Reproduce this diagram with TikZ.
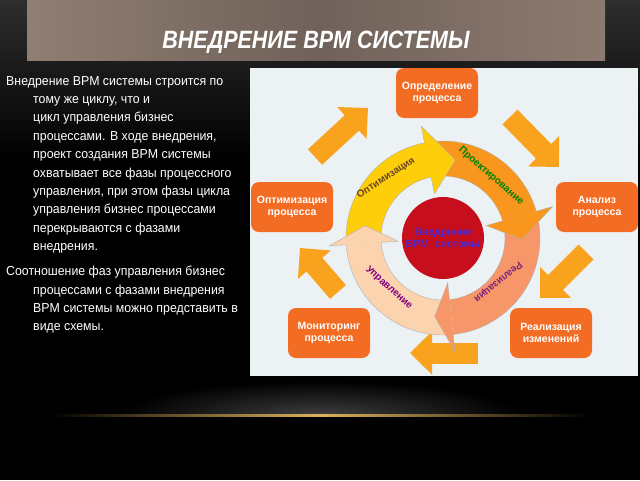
\documentclass[tikz,border=0pt]{standalone}
\usepackage{fontspec}
\setmainfont{Liberation Sans}
\newfontfamily\narrowfont{Liberation Sans}[FakeStretch=0.86]
\newfontfamily\bodyfont{Liberation Sans}[FakeStretch=0.95]
\usetikzlibrary{arrows.meta}

\definecolor{boxorange}{RGB}{242,108,36}
\definecolor{flowamber}{RGB}{248,162,30}
\definecolor{ringyellow}{RGB}{255,206,10}
\definecolor{ringorange}{RGB}{248,150,30}
\definecolor{ringsalmon}{RGB}{246,150,105}
\definecolor{ringpeach}{RGB}{251,211,175}
\definecolor{bpmred}{RGB}{198,14,28}
\definecolor{bpmblue}{RGB}{80,40,205}
\definecolor{panelbg}{RGB}{236,242,244}
\definecolor{barleft}{RGB}{143,126,114}
\definecolor{barmid}{RGB}{112,98,90}
\definecolor{barright}{RGB}{140,122,112}
\definecolor{goldline}{RGB}{222,178,90}

\tikzset{
  procbox/.style={rounded corners=8pt, fill=boxorange, minimum width=82pt,
    minimum height=50pt, text=white, align=center,
    font=\bfseries\fontsize{10.5}{12.5}\selectfont},
  flowarrow/.style={draw=flowamber, line width=21pt,
    -{Triangle[width=42pt,length=22pt]}},
  ringedge/.style={draw=black!30, line width=0.4pt},
  ringtext/.style={inner sep=0pt, font=\bfseries\fontsize{10}{12}\selectfont},
  slidetext/.style={anchor=north west, align=left, inner sep=0pt, text=white,
    font=\bodyfont\fontsize{13}{18.4}\selectfont}
}

% band of one ring arrow: colour, tail angle, base angle
\newcommand{\ringband}[3]{%
  \fill[#1] (#2:62) arc[start angle=#2, end angle=#3, radius=62]
    -- (#3:97) arc[start angle=#3, end angle=#2, radius=97] -- cycle;
  \draw[ringedge] (#2:62) arc[start angle=#2, end angle=#3, radius=62];
  \draw[ringedge] (#2:97) arc[start angle=#2, end angle=#3, radius=97];}
% head of one ring arrow: colour, base angle, tip angle
\newcommand{\ringhead}[3]{%
  \filldraw[ringedge, fill=#1] (#2:97) -- (#2:114) -- (#3:79) -- (#2:45) -- (#2:62);}

\begin{document}
\begin{tikzpicture}[x=1pt,y=-1pt]
    % slide background
    \useasboundingbox (0,0) rectangle (640,480);
    \fill[black] (0,0) rectangle (640,480);
    \shade[top color=black!82, bottom color=black] (0,0) rectangle (640,160);
    % glow and gold line
    \begin{scope}
      \clip (0,360) rectangle (640,415);
      \shade[inner color=black!76, outer color=black] (320,415) ellipse (200 and 34);
    \end{scope}
    \shade[left color=black, right color=black, middle color=goldline] (50,414) rectangle (590,416.5);

    % title bar
    \shade[left color=barleft, right color=barright, middle color=barmid] (27,0) rectangle (605,60);
    \node[text=white, font=\narrowfont\bfseries\itshape\fontsize{25}{30}\selectfont] (title) at (316,42) {ВНЕДРЕНИЕ BPM СИСТЕМЫ};

    % left text
    \node[slidetext] (intro) at (6,76) {Внедрение BPM системы строится по\\
      \hspace*{27pt}тому же циклу, что и\\
      \hspace*{27pt}цикл управления бизнес\\
      \hspace*{27pt}процессами. В ходе внедрения,\\
      \hspace*{27pt}проект создания BPM системы\\
      \hspace*{27pt}охватывает все фазы процессного\\
      \hspace*{27pt}управления, при этом фазы цикла\\
      \hspace*{27pt}управления бизнес процессами\\
      \hspace*{27pt}перекрываются с фазами\\
      \hspace*{27pt}внедрения.};
    \node[slidetext] (relation) at (6,266) {Соотношение фаз управления бизнес\\
      \hspace*{27pt}процессами с фазами внедрения\\
      \hspace*{27pt}BPM системы можно представить в\\
      \hspace*{27pt}виде схемы.};

    % diagram panel
    \fill[panelbg] (250,68) rectangle (638,376);

    % process boxes
    \node[procbox] (define) at (437,93) {Определение\\процесса};
    \node[procbox] (analyse) at (597,207) {Анализ\\процесса};
    \node[procbox] (realise) at (551,333) {Реализация\\изменений};
    \node[procbox] (monitor) at (329,333) {Мониторинг\\процесса};
    \node[procbox] (optimise) at (292,207) {Оптимизация\\процесса};

    % big arrows between boxes
    \coordinate (f1s) at (315,157); \coordinate (f1e) at (368,108);
    \coordinate (f2s) at (510,117); \coordinate (f2e) at (559,167);
    \coordinate (f3s) at (586,252); \coordinate (f3e) at (540,298);
    \coordinate (f4s) at (478,353); \coordinate (f4e) at (410,353);
    \coordinate (f5s) at (338,292); \coordinate (f5e) at (300,248);
    \draw[flowarrow] (f1s) -- (f1e);
    \draw[flowarrow] (f2s) -- (f2e);
    \draw[flowarrow] (f3s) -- (f3e);
    \draw[flowarrow] (f4s) -- (f4e);
    \draw[flowarrow] (f5s) -- (f5e);

    % ring of phase arrows
    \begin{scope}[shift={(443,238)}]
      \ringband{ringyellow}{176}{259}
      \ringband{ringorange}{259}{344}
      \ringband{ringsalmon}{344}{444}
      \ringband{ringpeach}{84}{176}
      \ringhead{ringyellow}{259}{279}
      \ringhead{ringorange}{344}{361}
      \ringhead{ringsalmon}{444}{456}
      \ringhead{ringpeach}{176}{189}
    \end{scope}
    \node[ringtext, text=black!45!brown, rotate=33] (lopt) at (386,178) {Оптимизация};
    \node[ringtext, text=green!50!black, rotate=-41] (ldes) at (491,176) {Проектирование};
    \node[ringtext, text=violet!70!gray, rotate=219] (lreal) at (498,282) {Реализация};
    \node[ringtext, text=violet, rotate=-42] (lman) at (389,288) {Управление};

    % core
    \node[circle, fill=bpmred, minimum size=82pt, inner sep=0pt, align=center,
      text=bpmblue, font=\bfseries\fontsize{10.5}{11.5}\selectfont] (core) at (443,238) {Внедрение\\BPM\ \ системы};
\end{tikzpicture}
\end{document}
